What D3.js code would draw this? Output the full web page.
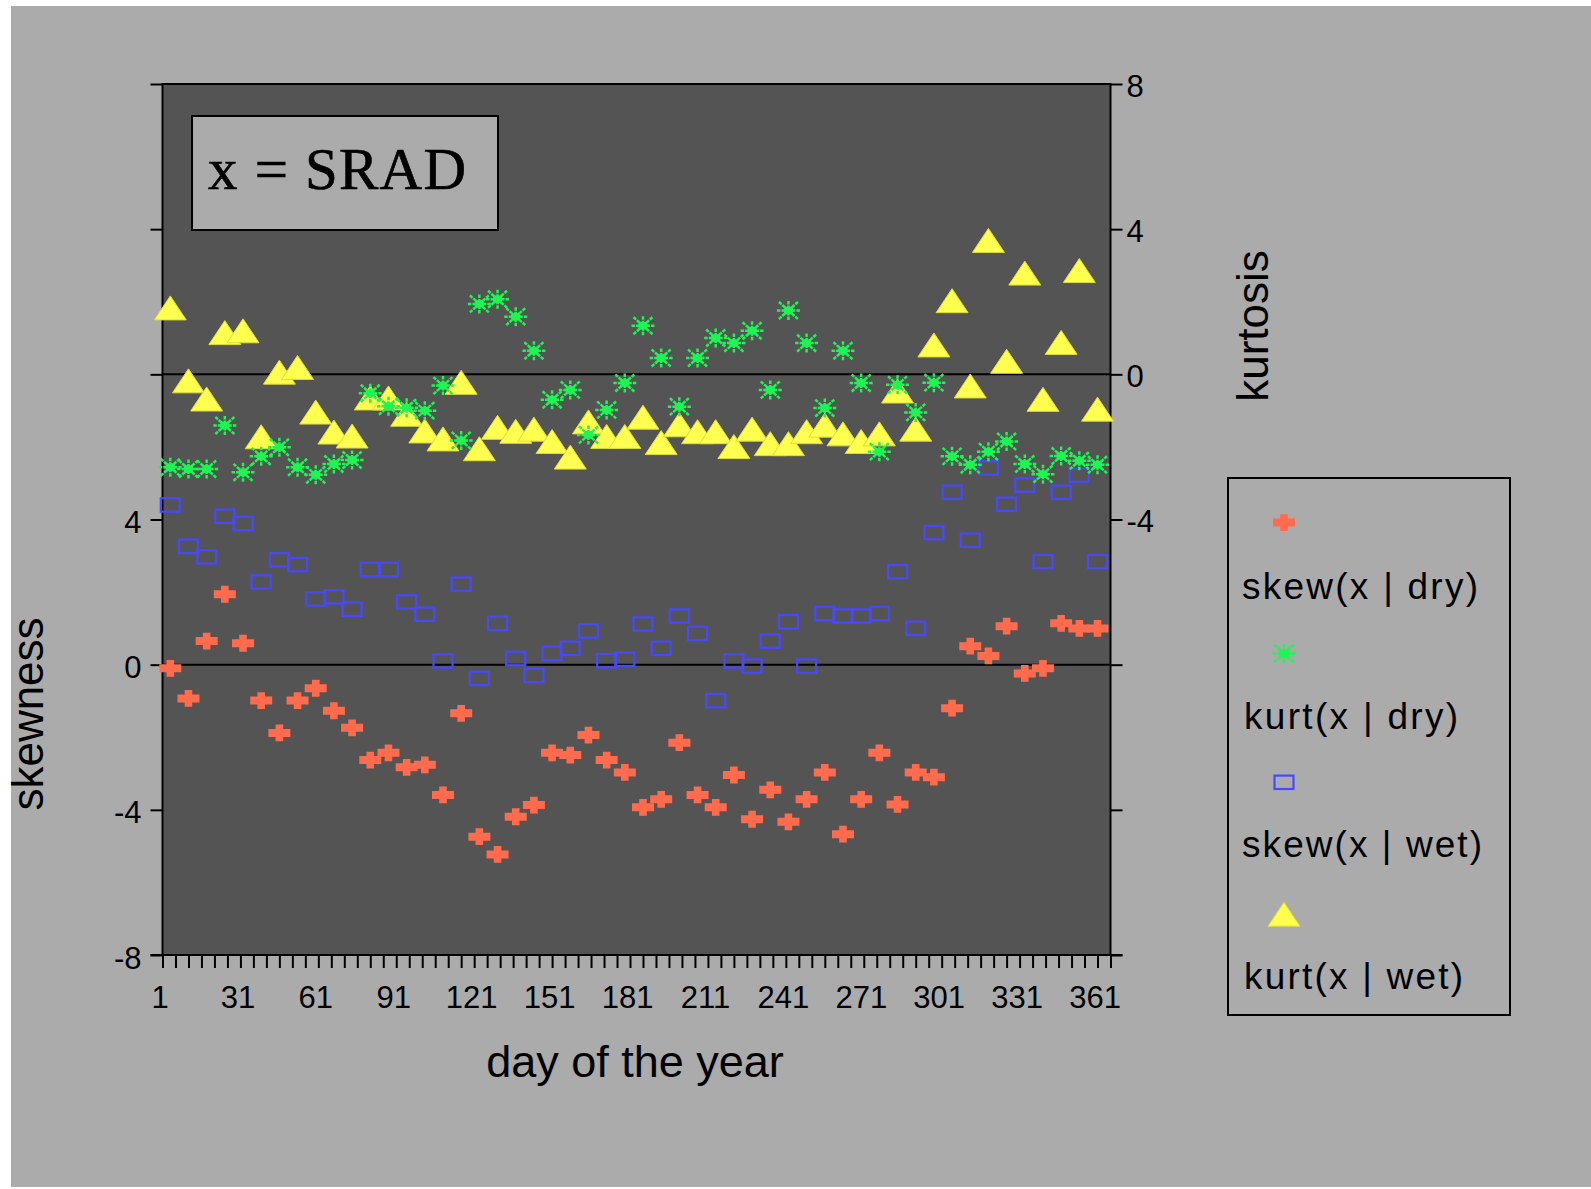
<!DOCTYPE html>
<html>
<head>
<meta charset="utf-8">
<script src="https://cdn.jsdelivr.net/npm/d3@7"></script>
<style>
  html, body { margin: 0; padding: 0; background: #ffffff; }
  svg { display: block; }
  text { font-family: "Liberation Sans", Arial, sans-serif; fill: #000; }
</style>
</head>
<body>
<script>
// Weekly statistics of solar radiation (SRAD) over the year
const days = [4, 11, 18, 25, 32, 39, 46, 53, 60, 67, 74, 81, 88, 95, 102, 109, 116, 123, 130, 137,
  144, 151, 158, 165, 172, 179, 186, 193, 200, 207, 214, 221, 228, 235, 242, 249, 256, 263, 270, 277,
  284, 291, 298, 305, 312, 319, 326, 333, 340, 347, 354, 361];

const skewDry = [-0.10, -0.93, 0.65, 1.94, 0.59, -0.99, -1.88, -0.99, -0.65, -1.27, -1.74, -2.63, -2.43,
  -2.83, -2.76, -3.59, -1.34, -4.74, -5.23, -4.19, -3.87, -2.43, -2.49, -1.94, -2.63, -2.97, -3.93, -3.71,
  -2.15, -3.59, -3.93, -3.04, -4.26, -3.45, -4.33, -3.71, -2.97, -4.67, -3.71, -2.43, -3.85, -2.97, -3.10,
  -1.20, 0.51, 0.24, 1.06, -0.24, -0.10, 1.14, 1.00, 1.00];

const kurtDry = [-2.56, -2.61, -2.61, -1.41, -2.70, -2.26, -2.01, -2.56, -2.77, -2.47, -2.36, -0.52, -0.88,
  -0.92, -1.00, -0.31, -1.82, 1.94, 2.07, 1.59, 0.65, -0.70, -0.43, -1.67, -0.98, -0.24, 1.34, 0.45, -0.89,
  0.45, 1.00, 0.86, 1.20, -0.43, 1.76, 0.86, -0.93, 0.65, -0.24, -2.13, -0.29, -1.05, -0.23, -2.26, -2.49,
  -2.13, -1.85, -2.47, -2.75, -2.25, -2.38, -2.49];

const skewWet = [4.40, 3.26, 2.97, 4.09, 3.89, 2.28, 2.89, 2.76, 1.81, 1.87, 1.53, 2.62, 2.62, 1.73, 1.39,
  0.10, 2.22, -0.38, 1.14, 0.17, -0.30, 0.31, 0.45, 0.93, 0.11, 0.15, 1.12, 0.45, 1.34, 0.86, -0.99, 0.10,
  -0.04, 0.65, 1.18, -0.04, 1.41, 1.34, 1.34, 1.41, 2.56, 1.00, 3.64, 4.75, 3.43, 5.42, 4.42, 4.95, 2.84,
  4.75, 5.22, 2.84];

const kurtWet = [1.83, -0.18, -0.68, 1.15, 1.20, -1.72, 0.06, 0.19, -1.04, -1.59, -1.70, -0.65, -0.65,
  -1.10, -1.56, -1.78, -0.22, -2.05, -1.46, -1.57, -1.51, -1.85, -2.28, -1.31, -1.71, -1.71, -1.18, -1.88,
  -1.39, -1.58, -1.58, -1.99, -1.51, -1.91, -1.91, -1.58, -1.40, -1.64, -1.85, -1.64, -0.46, -1.51, 0.81,
  2.03, -0.32, 3.69, 0.36, 2.79, -0.69, 0.88, 2.86, -0.96];

// Axis ticks
const xMinorTicks = d3.range(1, 367, 5);
const xLabelTicks = [1, 31, 61, 91, 121, 151, 181, 211, 241, 271, 301, 331, 361];
const skewTicks = [-8, -4, 0, 4, 8, 12, 16];
const skewLabels = [-8, -4, 0, 4];
const kurtTicks = [-16, -12, -8, -4, 0, 4, 8];
const kurtLabels = [-4, 0, 4, 8];

const seriesNames = ["skew(x | dry)", "kurt(x | dry)", "skew(x | wet)", "kurt(x | wet)"];

const W = 1591, H = 1189;
const plot = { left: 162.5, right: 1110.5, top: 84, bottom: 955 };

const svg = d3.select("body").append("svg")
  .attr("width", W).attr("height", H);

// page backdrop
svg.append("rect").attr("x", 11).attr("y", 6).attr("width", W - 11).attr("height", H - 8)
  .attr("fill", "#ababab");

const x = d3.scaleLinear().domain([1, 366]).range([plot.left, plot.right]);
const ySkew = d3.scaleLinear().domain([-8, 16]).range([plot.bottom, plot.top]);
const yKurt = d3.scaleLinear().domain([-16, 8]).range([plot.bottom, plot.top]);

// plotting area
svg.append("rect")
  .attr("x", plot.left).attr("y", plot.top)
  .attr("width", plot.right - plot.left).attr("height", plot.bottom - plot.top)
  .attr("fill", "#545454").attr("stroke", "#000").attr("stroke-width", 2);

// zero reference lines for both measures
[ySkew(0), yKurt(0)].forEach(yy => {
  svg.append("line").attr("x1", plot.left).attr("x2", plot.right)
    .attr("y1", yy).attr("y2", yy).attr("stroke", "#000").attr("stroke-width", 2);
});

const fmt = labels => d => labels.includes(d) ? String(d) : "";

// left axis: skewness
const axL = svg.append("g").attr("transform", `translate(${plot.left},0)`)
  .call(d3.axisLeft(ySkew).tickValues(skewTicks).tickFormat(fmt(skewLabels))
    .tickSize(12).tickPadding(9));
// right axis: kurtosis
const axR = svg.append("g").attr("transform", `translate(${plot.right},0)`)
  .call(d3.axisRight(yKurt).tickValues(kurtTicks).tickFormat(fmt(kurtLabels))
    .tickSize(12).tickPadding(4));
// bottom axis: day of the year
const axB = svg.append("g").attr("transform", `translate(0,${plot.bottom})`)
  .call(d3.axisBottom(x).tickValues(xMinorTicks).tickFormat(fmt(xLabelTicks))
    .tickSize(13).tickPadding(18));

[axL, axR, axB].forEach(g => {
  g.select(".domain").remove();
  g.selectAll(".tick line").attr("stroke", "#000").attr("stroke-width", 2);
  g.selectAll(".tick text").attr("font-size", 31).attr("fill", "#000")
    .attr("font-family", "Liberation Sans, Arial, sans-serif");
});
axL.selectAll(".tick text").attr("dy", "0.42em");
axR.selectAll(".tick text").attr("dy", "0.40em");
axB.selectAll(".tick text").attr("dx", -3);
axB.append("line").attr("x1", plot.left - 12).attr("x2", plot.right + 12)
  .attr("y1", 0).attr("y2", 0).attr("stroke", "#000").attr("stroke-width", 2);

// marker shapes
const markers = {
  cross: g => g.append("path")
    .attr("d", "M-3.8,-8.4H3.8V-4H11V4H3.8V8.4H-3.8V4H-11V-4H-3.8Z")
    .attr("fill", "#ff6b4c"),
  star: g => {
    const c = "#1cf552";
    const spokes = [[-11.5, 0, 11.5, 0], [0, -9.5, 0, 9.5], [-9.5, -8.5, 9.5, 8.5], [-9.5, 8.5, 9.5, -8.5]];
    spokes.forEach(s => {
      const len = Math.hypot(s[2] - s[0], s[3] - s[1]);
      const mid = len - 2 * 4.5;
      g.append("line")
        .attr("x1", s[0]).attr("y1", s[1]).attr("x2", s[2]).attr("y2", s[3])
        .attr("stroke", c).attr("stroke-width", 2.5)
        .attr("stroke-dasharray", `3.5,1,${mid},1,3.5`);
    });
    g.append("ellipse").attr("rx", 5).attr("ry", 4).attr("fill", c);
  },
  square: g => g.append("rect")
    .attr("x", -9.5).attr("y", -6.7).attr("width", 19).attr("height", 13.4)
    .attr("fill", "none").attr("stroke", "#4848ff").attr("stroke-width", 2.2),
  triangle: g => g.append("path")
    .attr("d", "M0,-12L16,12H-16Z")
    .attr("fill", "#ffff4f").attr("stroke", "#dcdc3c").attr("stroke-width", 1)
};

const series = [
  { name: seriesNames[0], values: skewDry, y: ySkew, marker: "cross" },
  { name: seriesNames[2], values: skewWet, y: ySkew, marker: "square" },
  { name: seriesNames[3], values: kurtWet, y: yKurt, marker: "triangle" },
  { name: seriesNames[1], values: kurtDry, y: yKurt, marker: "star" }
];

series.forEach(s => {
  const g = svg.append("g").attr("class", "series");
  g.selectAll("g").data(days.map((d, i) => ({ d, v: s.values[i] })))
    .join("g")
    .attr("transform", p => `translate(${x(p.d)},${s.y(p.v)})`)
    .each(function () { markers[s.marker](d3.select(this)); });
});

// variable label box
svg.append("rect").attr("x", 192).attr("y", 116).attr("width", 306).attr("height", 114)
  .attr("fill", "#ababab").attr("stroke", "#000").attr("stroke-width", 2);
svg.append("text").attr("x", 208).attr("y", 189)
  .attr("font-size", 59)
  .attr("textLength", 258).attr("lengthAdjust", "spacing")
  .attr("stroke", "#000").attr("stroke-width", 0.6)
  .style("font-family", "'Liberation Serif', 'Times New Roman', serif")
  .text("x = SRAD");

// axis titles
svg.append("text").attr("transform", "translate(43,714) rotate(-90)")
  .attr("text-anchor", "middle").attr("font-size", 44).text("skewness");
svg.append("text").attr("transform", "translate(1268,326) rotate(-90)")
  .attr("text-anchor", "middle").attr("font-size", 44).text("kurtosis");
svg.append("text").attr("x", 635).attr("y", 1077)
  .attr("text-anchor", "middle").attr("font-size", 45).text("day of the year");

// legend
svg.append("rect").attr("x", 1228).attr("y", 478).attr("width", 282).attr("height", 537)
  .attr("fill", "none").attr("stroke", "#000").attr("stroke-width", 2);
const legendItems = [
  { marker: "cross", my: 522.6, tx: 1242, ty: 599, len: 236, label: seriesNames[0] },
  { marker: "star", my: 653.5, tx: 1244, ty: 728.5, len: 214, label: seriesNames[1] },
  { marker: "square", my: 782.3, tx: 1242, ty: 857.4, len: 240, label: seriesNames[2] },
  { marker: "triangle", my: 914.2, tx: 1244, ty: 989, len: 219, label: seriesNames[3] }
];
legendItems.forEach(it => {
  const g = svg.append("g").attr("transform", `translate(1284,${it.my})`);
  markers[it.marker](g);
  svg.append("text").attr("x", it.tx).attr("y", it.ty).attr("font-size", 37)
    .attr("textLength", it.len).attr("lengthAdjust", "spacing").text(it.label);
});
</script>
</body>
</html>
